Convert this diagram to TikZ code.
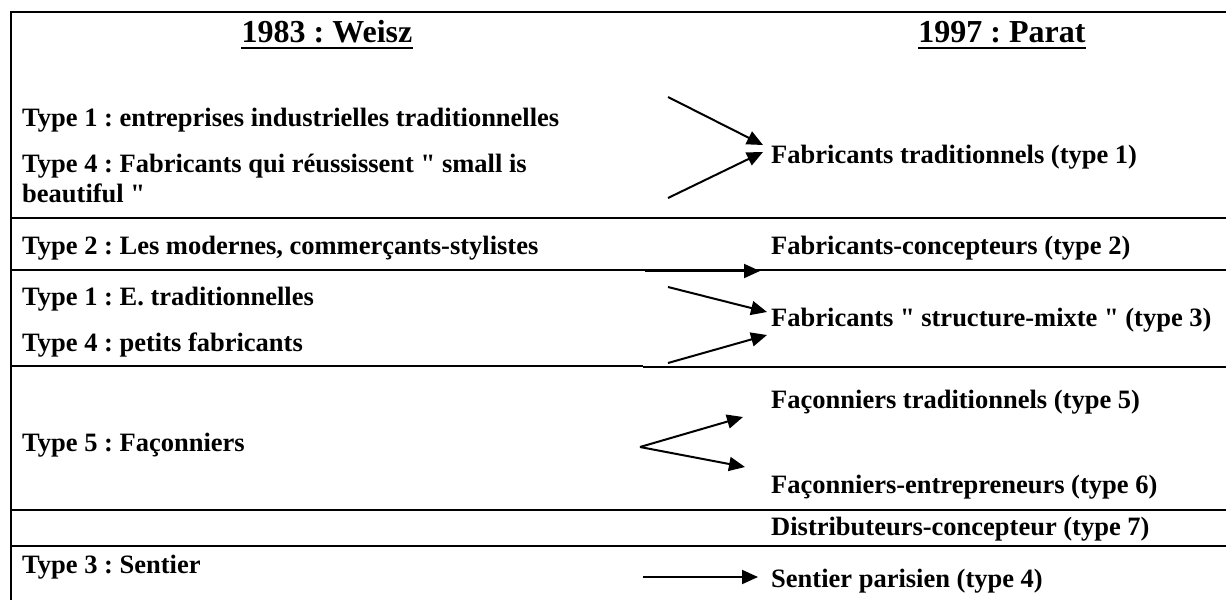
\documentclass[tikz,border=0pt]{standalone}
\usepackage{fontspec}
\setmainfont{Liberation Serif}
\frenchspacing
\usetikzlibrary{positioning, arrows.meta}
\tikzset{cell/.style={anchor=base west, inner sep=0pt, font=\fontsize{26.5}{30}\selectfont\bfseries},
	head/.style={anchor=base, inner sep=0pt, font=\fontsize{32}{36}\selectfont\bfseries},
	thin rule/.style={line width=1.3pt},
	thick rule/.style={line width=2.2pt},
	link/.style={line width=2pt, ->},}
\newcommand{\dq}{\textquotedbl}

\begin{document}
\begin{tikzpicture}[x=1pt, y=-1pt, >={Triangle[length=16pt, width=14pt]}]
	\useasboundingbox (0,0) rectangle (1226,600);
	% Headings
	\node[head] (hw) at (327,42) {1983 : Weisz};
	\node[head] (hp) at (1002,42) {1997 : Parat};
	\draw[line width=2.4pt] ([yshift=-6pt]hw.base west) -- ([yshift=-6pt]hw.base east);
	\draw[line width=2.4pt] ([yshift=-6pt]hp.base west) -- ([yshift=-6pt]hp.base east);
	% Rules
	\draw[thin rule] (1226,12) -- (11,12) -- (11,600);
	\draw[thick rule] (11,218) -- (1226,218);
	\draw[thick rule] (11,270) -- (1226,270);
	\draw[thin rule] (11,366) -- (643,366);
	\draw[thick rule] (643,367) -- (1226,367);
	\draw[thin rule] (11,510) -- (1226,510);
	\draw[thick rule] (11,546) -- (1226,546);
	% 1983
	\node[cell] (l1) at (22,126) {Type 1 : entreprises industrielles traditionnelles};
	\node[cell] (l4) at (22,172) {Type 4 : Fabricants qui réussissent \dq{} small is};
	\node[cell] (l4b) at ([yshift=-30pt]l4.base west) {beautiful \dq};
	\node[cell] (l2) at (22,254) {Type 2 : Les modernes, commerçants-stylistes};
	\node[cell] (l1e) at (22,305) {Type 1 : E. traditionnelles};
	\node[cell] (l4p) at (22,351) {Type 4 : petits fabricants};
	\node[cell] (l5) at (22,451) {Type 5 : Façonniers};
	\node[cell] (l3) at (22,573) {Type 3 : Sentier};
	% 1997
	\node[cell] (r1) at (771,163) {Fabricants traditionnels (type 1)};
	\node[cell] (r2) at (771,254) {Fabricants-concepteurs (type 2)};
	\node[cell] (r3) at (771,326) {Fabricants \dq{} structure-mixte \dq{} (type 3)};
	\node[cell] (r5) at (771,408) {Façonniers traditionnels (type 5)};
	\node[cell] (r6) at (771,493) {Façonniers-entrepreneurs (type 6)};
	\node[cell] (r7) at (771,535) {Distributeurs-concepteur (type 7)};
	\node[cell] (r4) at (771,587) {Sentier parisien (type 4)};
	% Arrows
	\coordinate (a1) at (668,97);
	\coordinate (a2) at (668,198);
	\coordinate (b1) at (645,271);
	\coordinate (c1) at (668,287);
	\coordinate (c2) at (668,363);
	\coordinate (f) at (640,447);
	\coordinate (s) at (643,577);
	\path
	(a1) edge[link] ([xshift=-8pt, yshift=18pt]r1.base west)
	(a2) edge[link] ([xshift=-8pt, yshift=11pt]r1.base west)
	(b1) edge[link] ([xshift=-11pt, yshift=-17pt]r2.base west)
	(c1) edge[link] ([xshift=-4pt, yshift=14pt]r3.base west)
	(c2) edge[link] ([xshift=-4pt, yshift=-9pt]r3.base west)
	(f) edge[link] ([xshift=-28pt, yshift=-9pt]r5.base west)
	(f) edge[link] ([xshift=-26pt, yshift=26pt]r6.base west)
	(s) edge[link] ([xshift=-13pt, yshift=10pt]r4.base west);
\end{tikzpicture}
\end{document}
